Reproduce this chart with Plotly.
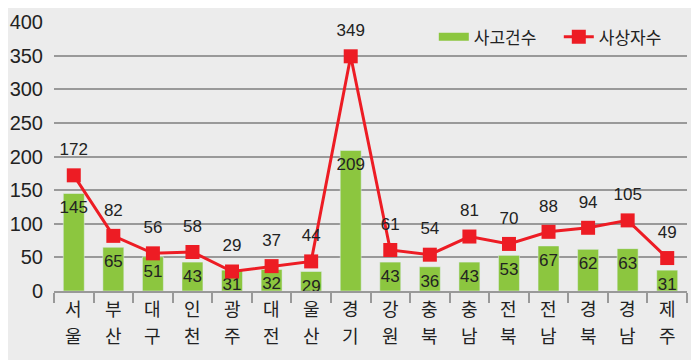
import plotly.graph_objects as go

categories = ["서울", "부산", "대구", "인천", "광주", "대전", "울산", "경기",
              "강원", "충북", "충남", "전북", "전남", "경북", "경남", "제주"]
accidents = [145, 65, 51, 43, 31, 32, 29, 209, 43, 36, 43, 53, 67, 62, 63, 31]
casualties = [172, 82, 56, 58, 29, 37, 44, 349, 61, 54, 81, 70, 88, 94, 105, 49]
y_ticks = [0, 50, 100, 150, 200, 250, 300, 350, 400]

GREEN = "#8CC63F"
RED = "#ED1C24"
NUMFONT = "Liberation Sans Narrow, Liberation Sans, Arial, sans-serif"
KFONT = "Noto Sans CJK KR, sans-serif"

fig = go.Figure()
fig.add_trace(go.Bar(x=categories, y=accidents, marker_color=GREEN, width=0.53,
                     showlegend=False, name="사고건수"))
# bar value labels (inside top)
fig.add_trace(go.Scatter(x=categories, y=accidents, mode="markers+text", text=[str(v) for v in accidents],
                         marker=dict(size=10, opacity=0), hoverinfo="skip",
                         textposition="bottom center", showlegend=False, cliponaxis=False,
                         textfont=dict(size=17, color="#222222", family=NUMFONT)))
# legend proxy for bars
fig.add_trace(go.Scatter(x=[None], y=[None], mode="lines", line=dict(color=GREEN, width=8),
                         name="사고건수"))
fig.add_trace(go.Scatter(x=categories, y=casualties, mode="lines+markers", name="사상자수",
                         line=dict(color=RED, width=3), cliponaxis=False,
                         marker=dict(symbol="square", size=14, color=RED)))
# line value labels above markers
fig.add_trace(go.Scatter(x=categories, y=casualties, mode="markers+text", text=[str(v) for v in casualties],
                         marker=dict(size=24, opacity=0), hoverinfo="skip",
                         textposition="top center", showlegend=False, cliponaxis=False,
                         textfont=dict(size=17, color="#222222", family=NUMFONT)))

# category labels: two characters stacked vertically
for c in categories:
    for i, ch in enumerate(c):
        fig.add_annotation(x=c, xref="x", y=0, yref="paper", text=ch, showarrow=False,
                           yanchor="middle", xanchor="center", yshift=-17 - 27 * i,
                           font=dict(size=18, family=KFONT, color="#222222"))

fig.update_layout(
    width=699, height=360,
    margin=dict(l=46, r=20, t=11, b=77),
    paper_bgcolor="#ECECEC", plot_bgcolor="#ECECEC",
    legend=dict(orientation="h", x=0.6, y=1.01, xanchor="left", yanchor="top",
                entrywidth=80,
                bgcolor="rgba(0,0,0,0)", font=dict(size=17, family=KFONT, color="#222222")),
)
fig.update_xaxes(type="category", showline=True, linecolor="#999999", linewidth=2,
                 ticks="outside", tickson="boundaries", ticklen=10, tickcolor="#999999", tickwidth=2,
                 showticklabels=False, showgrid=False, automargin=False,
                 range=[-0.5, 15.5])
fig.update_yaxes(range=[0, 400], tickvals=y_ticks, showgrid=True, gridcolor="#999999", gridwidth=2,
                 zeroline=False, showline=False, ticklabelstandoff=10, automargin=False,
                 ticklabeloverflow="allow",
                 tickfont=dict(size=20, family=NUMFONT, color="#222222"))

fig.write_html("out.html")
